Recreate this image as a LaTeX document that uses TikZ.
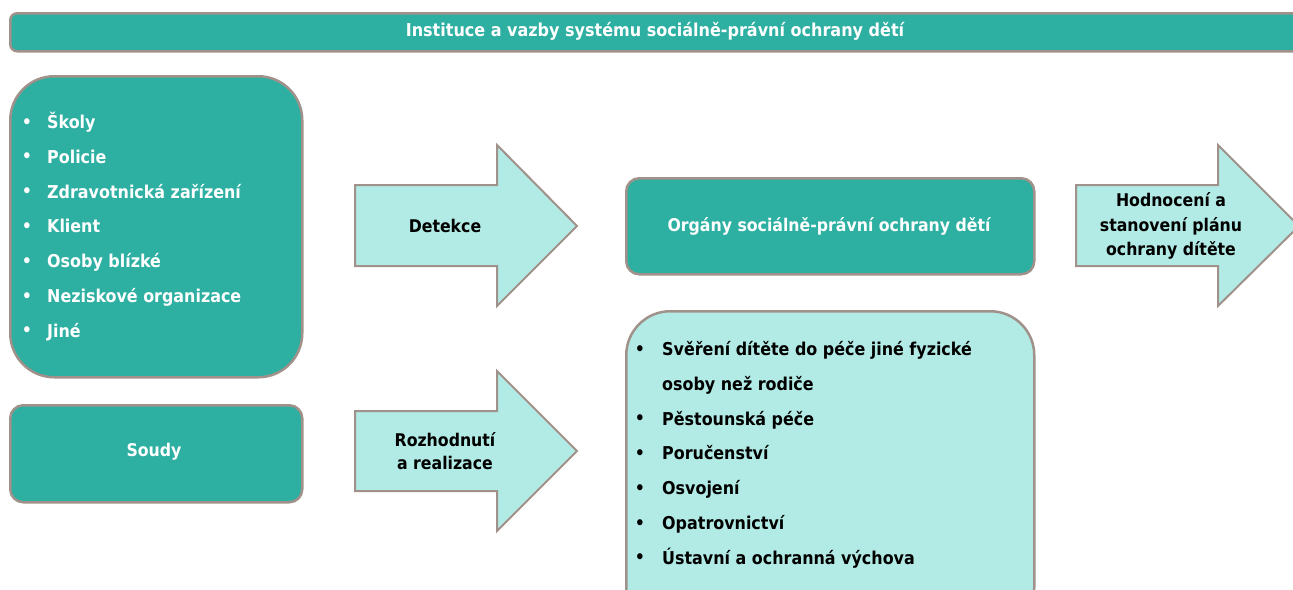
\documentclass[tikz,border=0pt]{standalone}
\usepackage{fontspec}
\setmainfont{DejaVu Sans Condensed}
\definecolor{tealfill}{HTML}{2DAFA2}
\definecolor{lightfill}{HTML}{B2EBE5}
\definecolor{edge}{HTML}{A0928A}
\begin{document}
\begin{tikzpicture}[x=1pt,y=-1pt,
  tealbox/.style={draw=edge, fill=tealfill, line width=2.5pt},
  lightbox/.style={draw=edge, fill=lightfill, line width=2.5pt},
  arrowshape/.style={draw=edge, fill=lightfill, line width=2pt, line join=miter},
  whitetext/.style={text=white, font=\bfseries\fontsize{17.5}{20}\selectfont, inner sep=0pt},
  darktext/.style={text=black, font=\bfseries\fontsize{17.5}{24}\selectfont, inner sep=0pt, align=center},
  itemw/.style={text=white, font=\bfseries\fontsize{17.7}{20}\selectfont, inner sep=0pt, anchor=base west},
  itemd/.style={text=black, font=\bfseries\fontsize{17.7}{20}\selectfont, inner sep=0pt, anchor=base west},
  bulletw/.style={text=white, font=\fontsize{21}{21}\selectfont, inner sep=0pt, anchor=base},
  bulletd/.style={text=black, font=\fontsize{21}{21}\selectfont, inner sep=0pt, anchor=base},
]
\useasboundingbox (0,0) rectangle (1293,589);
\clip (0,0) rectangle (1293,589);
\fill[white] (0,0) rectangle (1293,589);

% title bar
\node[tealbox, rounded corners=7pt, minimum width=1310pt, minimum height=38pt, anchor=north west, inner sep=0pt] (title) at (9,12) {};
\node[text=white, font=\bfseries\fontsize{17.8}{20}\selectfont, inner sep=0pt] (titletext) at (655,31) {Instituce a vazby systému sociálně-právní ochrany dětí};

% sources of detection
\node[tealbox, rounded corners=44pt, minimum width=292pt, minimum height=301pt, anchor=north west] (sources) at (9,75) {};
\foreach \t [count=\i] in {Školy,Policie,Zdravotnická zařízení,Klient,Osoby blízké,Neziskové organizace,Jiné} {
  \node[itemw] (src\i) at (47,{128.5+34.8*(\i-1)}) {\t};
  \node[bulletw] (srcb\i) at (27,{129+34.8*(\i-1)}) {•};
}

% courts
\node[tealbox, rounded corners=13pt, minimum width=292pt, minimum height=97pt, anchor=north west] (courts) at (9,404) {};
\node[whitetext] (courtstext) at (154,452) {Soudy};

% authority
\node[tealbox, rounded corners=13pt, minimum width=408pt, minimum height=96pt, anchor=north west] (authority) at (625,177) {};
\node[whitetext] (authtext) at (829,226) {Orgány sociálně-právní ochrany dětí};

% measures
\node[lightbox, rounded corners=44pt, minimum width=408pt, minimum height=320pt, anchor=north west] (measures) at (625,310) {};
\foreach \t [count=\i] in {Svěření dítěte do péče jiné fyzické,osoby než rodiče,Pěstounská péče,Poručenství,Osvojení,Opatrovnictví,Ústavní a ochranná výchova} {
  \node[itemd] (ms\i) at (662,{355.5+34.8*(\i-1)}) {\t};
}
\foreach \i in {1,3,4,5,6,7} {
  \node[bulletd] (msb\i) at (640,{356+34.8*(\i-1)}) {•};
}

% block arrows
\draw[arrowshape] (355,185) -- (497,185) -- (497,145) -- (577,226) -- (497,306) -- (497,266) -- (355,266) -- cycle;
\node[darktext] (detect) at (445,226) {Detekce};

\draw[arrowshape] (355,411) -- (497,411) -- (497,371) -- (577,451) -- (497,531) -- (497,491) -- (355,491) -- cycle;
\node[darktext, font=\bfseries\fontsize{17.5}{23}\selectfont] (decide) at (445,451) {Rozhodnutí\\a realizace};

\draw[arrowshape] (1076,185) -- (1218,185) -- (1218,145) -- (1299,226) -- (1218,306) -- (1218,266) -- (1076,266) -- cycle;
\node[darktext, font=\bfseries\fontsize{17.5}{24.5}\selectfont] (assess) at (1171,226) {Hodnocení a\\stanovení plánu\\ochrany dítěte};
\end{tikzpicture}
\end{document}
